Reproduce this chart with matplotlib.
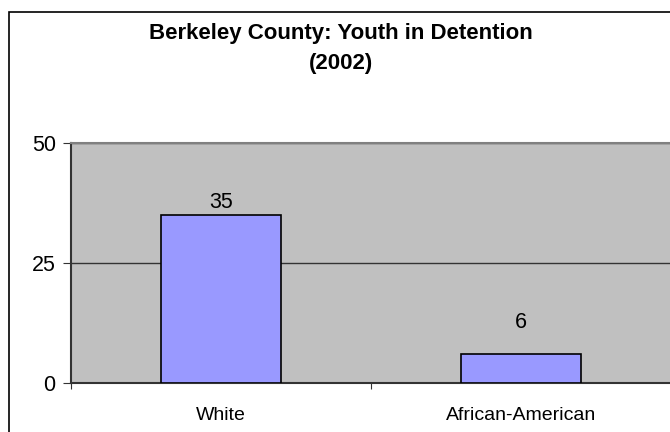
import matplotlib
matplotlib.use("Agg")
import matplotlib.pyplot as plt
from matplotlib.patches import Rectangle

categories = ["White", "African-American"]
values = [35, 6]
yticks = [0, 25, 50]
title_lines = ["Berkeley County: Youth in Detention", "(2002)"]

W, H = 670, 432
dpi = 100
plt.rcParams['font.family'] = ['Liberation Sans', 'DejaVu Sans']
fig = plt.figure(figsize=(W / dpi, H / dpi), dpi=dpi)
fig.patch.set_facecolor("white")

# figure border (chart area frame, cropped at right/bottom)
fig.add_artist(Rectangle((9 / W, -0.1), 1.2, (H - 12) / H + 0.1, transform=fig.transFigure,
                         fill=False, edgecolor="black", linewidth=1.2))

left, right, top, bottom = 71, 671, 143, 383
ax = fig.add_axes([left / W, 1 - bottom / H, (right - left) / W, (bottom - top) / H])
ax.set_facecolor("#C0C0C0")

x = list(range(len(categories)))
ax.bar(x, values, width=0.4, color="#9999FF", edgecolor="black", linewidth=1.2, zorder=3)
label_offsets_pt = [1.5, 15]
for xi, v, off in zip(x, values, label_offsets_pt):
    ax.annotate(str(v), (xi, v), xytext=(0, off), textcoords="offset points",
                ha="center", va="bottom", fontsize=15.5, color="black", zorder=4)

ax.set_xlim(-0.5, 1.5)
ax.set_ylim(0, 50)
ax.set_yticks(yticks)
ax.set_yticklabels([str(t) for t in yticks], fontsize=15.5)
ax.set_xticks([-0.5, 0.5, 1.5])
ax.set_xticklabels([])
ax.set_xticks(x, minor=True)
ax.set_xticklabels(categories, minor=True, fontsize=14)
ax.tick_params(axis="x", which="minor", length=0, pad=17)
ax.tick_params(axis="x", which="major", length=4, direction="out", color="#333333")
ax.tick_params(axis="y", length=6, direction="out", color="#333333", pad=5)

ax.yaxis.grid(True, color="#333333", linewidth=1)
ax.set_axisbelow(True)
ax.spines["left"].set_color("#333333")
ax.spines["left"].set_linewidth(1.5)
ax.spines["bottom"].set_color("#333333")
ax.spines["bottom"].set_linewidth(1.5)
ax.spines["top"].set_color("#808080")
ax.spines["top"].set_linewidth(1.5)
ax.spines["right"].set_visible(False)

cx = 341 / W
fig.text(cx, 1 - 33 / H, title_lines[0], ha="center", va="center", fontsize=16, fontweight="bold")
fig.text(cx, 1 - 63 / H, title_lines[1], ha="center", va="center", fontsize=16, fontweight="bold")

fig.savefig("out.png", dpi=dpi)
